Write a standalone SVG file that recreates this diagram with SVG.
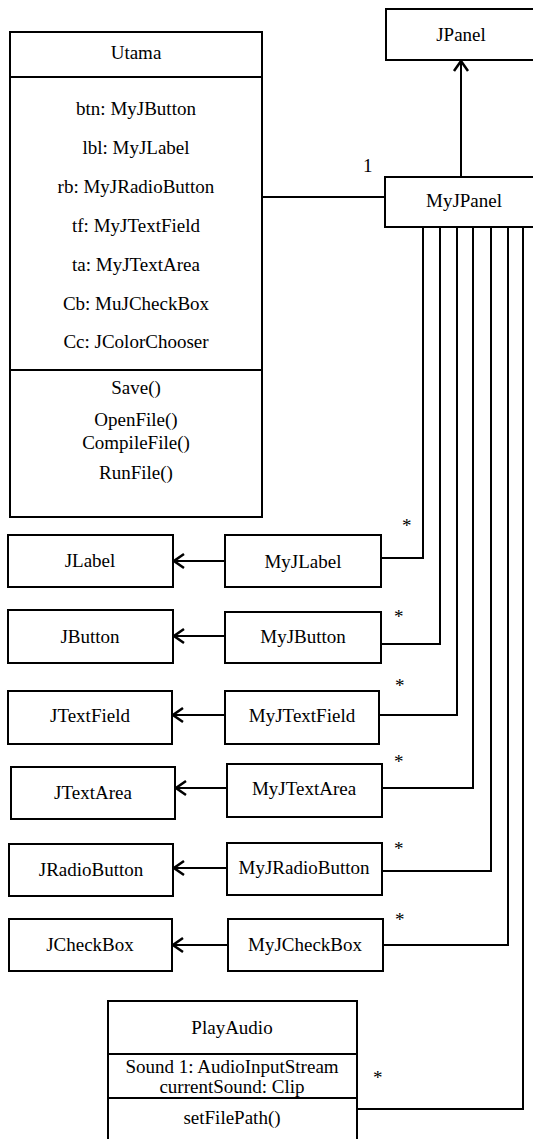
<svg xmlns="http://www.w3.org/2000/svg" width="533" height="1139" viewBox="0 0 533 1139" font-family="'Liberation Serif', 'Times New Roman', 'DejaVu Serif', serif">
  <style>
    .box { fill: #fff; stroke: #000; stroke-width: 2; }
    .sep { stroke: #000; stroke-width: 2; }
    text { font-family: 'Liberation Serif', 'Times New Roman', 'DejaVu Serif', serif; font-size: 19px; fill: #000; }
    .t { text-anchor: middle; }
    .wire { fill: none; stroke: #000; stroke-width: 2; }
    .inh { fill: none; stroke: #000; stroke-width: 2; marker-end: url(#open); }
  </style>
  <defs>
    <!-- open chevron head used for generalisation lines -->
    <marker id="open" viewBox="-13 -9 15 18" markerWidth="15" markerHeight="18" refX="0" refY="0" orient="auto" markerUnits="userSpaceOnUse">
      <path d="M-10,-7 L0,0 L-10,7" fill="none" stroke="#000" stroke-width="2.5"/>
    </marker>
  </defs>
  <rect width="533" height="1139" fill="#fff"/>

  <!-- connectors -->
  <g id="connectors">
    <path class="inh" d="M461,177 L461,61"/>
    <path class="wire" d="M262,197 L385,197"/>
    <path class="wire" d="M381,558 L423,558 L423,227"/>
    <path class="wire" d="M381,644 L440,644 L440,227"/>
    <path class="wire" d="M379,715 L457,715 L457,227"/>
    <path class="wire" d="M382,788 L473,788 L473,227"/>
    <path class="wire" d="M382,871 L491,871 L491,227"/>
    <path class="wire" d="M383,945 L508,945 L508,227"/>
    <path class="wire" d="M357,1109 L523,1109 L523,227"/>
    <path class="inh" d="M225,561 L174,561"/>
    <path class="inh" d="M225,636 L174,636"/>
    <path class="inh" d="M225,715 L173,715"/>
    <path class="inh" d="M227,788 L176,788"/>
    <path class="inh" d="M227,868 L174,868"/>
    <path class="inh" d="M228,945 L173,945"/>
    <text x="363" y="172">1</text>
    <text x="402" y="532">*</text>
    <text x="394" y="623">*</text>
    <text x="395" y="692">*</text>
    <text x="394" y="768">*</text>
    <text x="394" y="855">*</text>
    <text x="395" y="926">*</text>
    <text x="373" y="1084">*</text>
  </g>

  <g id="utama">
    <rect class="box" x="10" y="32" width="252" height="485"/>
    <line class="sep" x1="10" y1="77" x2="262" y2="77"/>
    <line class="sep" x1="10" y1="370" x2="262" y2="370"/>
    <text class="t" x="136" y="59">Utama</text>
    <text class="t" x="136" y="115">btn: MyJButton</text>
    <text class="t" x="136" y="154">lbl: MyJLabel</text>
    <text class="t" x="136" y="193">rb: MyJRadioButton</text>
    <text class="t" x="136" y="232">tf: MyJTextField</text>
    <text class="t" x="136" y="271">ta: MyJTextArea</text>
    <text class="t" x="136" y="310">Cb: MuJCheckBox</text>
    <text class="t" x="136" y="348">Cc: JColorChooser</text>
    <text class="t" x="136" y="394">Save()</text>
    <text class="t" x="136" y="426">OpenFile()</text>
    <text class="t" x="136" y="449">CompileFile()</text>
    <text class="t" x="136" y="479">RunFile()</text>
  </g>

  <g id="jpanel">
    <rect class="box" x="386" y="9" width="160" height="51"/>
    <text class="t" x="461" y="41">JPanel</text>
  </g>

  <g id="myjpanel">
    <rect class="box" x="385" y="177" width="160" height="50"/>
    <text class="t" x="464" y="207">MyJPanel</text>
  </g>

  <g id="jlabel">
    <rect class="box" x="8" y="535" width="165" height="52"/>
    <text class="t" x="90" y="567">JLabel</text>
  </g>
  <g id="myjlabel">
    <rect class="box" x="225" y="535" width="156" height="52"/>
    <text class="t" x="303" y="568">MyJLabel</text>
  </g>

  <g id="jbutton">
    <rect class="box" x="8" y="610" width="165" height="53"/>
    <text class="t" x="90" y="643">JButton</text>
  </g>
  <g id="myjbutton">
    <rect class="box" x="225" y="612" width="156" height="51"/>
    <text class="t" x="303" y="643">MyJButton</text>
  </g>

  <g id="jtextfield">
    <rect class="box" x="8" y="691" width="164" height="53"/>
    <text class="t" x="90" y="722">JTextField</text>
  </g>
  <g id="myjtextfield">
    <rect class="box" x="225" y="691" width="154" height="53"/>
    <text class="t" x="302" y="722">MyJTextField</text>
  </g>

  <g id="jtextarea">
    <rect class="box" x="11" y="767" width="164" height="52"/>
    <text class="t" x="93" y="799">JTextArea</text>
  </g>
  <g id="myjtextarea">
    <rect class="box" x="227" y="764" width="155" height="53"/>
    <text class="t" x="304" y="795">MyJTextArea</text>
  </g>

  <g id="jradiobutton">
    <rect class="box" x="9" y="844" width="164" height="52"/>
    <text class="t" x="91" y="876">JRadioButton</text>
  </g>
  <g id="myjradiobutton">
    <rect class="box" x="227" y="843" width="155" height="52"/>
    <text class="t" x="304" y="874">MyJRadioButton</text>
  </g>

  <g id="jcheckbox">
    <rect class="box" x="9" y="919" width="163" height="52"/>
    <text class="t" x="90" y="951">JCheckBox</text>
  </g>
  <g id="myjcheckbox">
    <rect class="box" x="228" y="919" width="155" height="52"/>
    <text class="t" x="305" y="951">MyJCheckBox</text>
  </g>

  <g id="playaudio">
    <rect class="box" x="108" y="1001" width="249" height="150"/>
    <line class="sep" x1="108" y1="1054" x2="357" y2="1054"/>
    <line class="sep" x1="108" y1="1098" x2="357" y2="1098"/>
    <text class="t" x="232" y="1034">PlayAudio</text>
    <text class="t" x="232" y="1073">Sound 1: AudioInputStream</text>
    <text class="t" x="232" y="1093">currentSound: Clip</text>
    <text class="t" x="232" y="1124">setFilePath()</text>
  </g>
</svg>
